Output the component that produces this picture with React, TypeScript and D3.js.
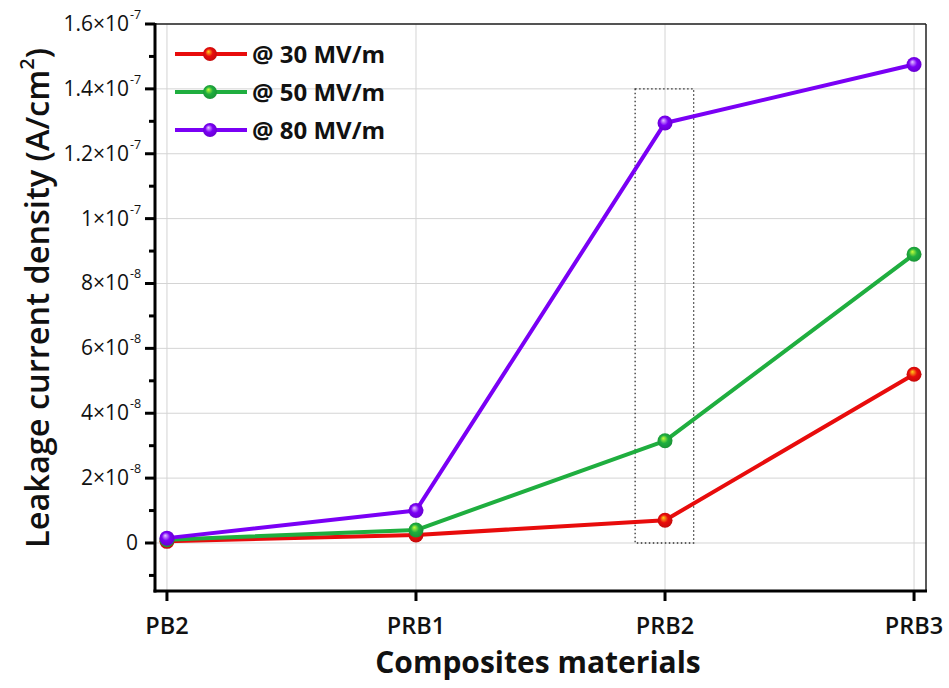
import React from "react";
import * as d3 from "d3";

// data
const categories = ["PB2", "PRB1", "PRB2", "PRB3"];
const series30 = [0.05e-8, 0.25e-8, 0.7e-8, 5.2e-8];
const series50 = [0.1e-8, 0.4e-8, 3.15e-8, 8.9e-8];
const series80 = [0.15e-8, 1.0e-8, 12.95e-8, 14.75e-8];
const seriesNames = ["@ 30 MV/m", "@ 50 MV/m", "@ 80 MV/m"];

const yMajorTicks = [0, 2e-8, 4e-8, 6e-8, 8e-8, 1e-7, 1.2e-7, 1.4e-7, 1.6e-7];
const yTickMantissa = ["0", "2", "4", "6", "8", "1", "1.2", "1.4", "1.6"];
const yTickExponent = ["", "-8", "-8", "-8", "-8", "-7", "-7", "-7", "-7"];
const yMinorTicks = [-1e-8, 1e-8, 3e-8, 5e-8, 7e-8, 9e-8, 1.1e-7, 1.3e-7, 1.5e-7];

// dashed box around PRB2
const boxCategory = "PRB2";
const boxTop = 1.4e-7;

const colors = ["#e80c0c", "#1fae3f", "#7a00f5"];
const highlights = ["#ffd21a", "#c8ff3a", "#e6c8ff"];

const W = 949;
const H = 688;
const left = 155;
const right = 926;
const top = 24;
const bottom = 591;
const font = "'Open Sans', 'Noto Sans', sans-serif";

const App = () => {
  const seriesList = [series30, series50, series80];

  const x = d3.scaleLinear().domain([-0.048, 3.048]).range([left, right]);
  const y = d3.scaleLinear().domain([-1.48e-8, 1.6e-7]).range([bottom, top]);

  const line = d3
    .line<number>()
    .x((_, i) => x(i))
    .y((d) => y(d));

  const bi = categories.indexOf(boxCategory);
  const legendY = [54, 92, 130];

  return (
    <svg width={W} height={H} style={{ position: "absolute", left: 0, top: 0 }}>
      <defs>
        {colors.map((c, i) => (
          <radialGradient key={i} id={"ball" + i} cx="0.5" cy="0.5" fx="0.38" fy="0.32" r="0.6">
            <stop offset="0" stopColor={highlights[i]} />
            <stop offset="0.45" stopColor={c} />
            <stop offset="1" stopColor={d3.color(c)!.darker(0.6).toString()} />
          </radialGradient>
        ))}
      </defs>
      <rect width={W} height={H} fill="#fff" />

      {/* grid */}
      <g stroke="#d4d4d4" strokeWidth={1}>
        {categories.map((c, i) => (
          <line key={c} x1={x(i)} x2={x(i)} y1={top} y2={bottom} />
        ))}
        {yMajorTicks.map((t) => (
          <line key={t} x1={left} x2={right} y1={y(t)} y2={y(t)} />
        ))}
      </g>

      {/* frame */}
      <line x1={left} x2={right} y1={top} y2={top} stroke="#222" strokeWidth={1.5} />
      <line x1={right} x2={right} y1={top} y2={bottom} stroke="#222" strokeWidth={1.5} />
      <line x1={left} x2={left} y1={top - 1} y2={bottom + 1.5} stroke="#000" strokeWidth={3} />
      <line x1={left - 1.5} x2={right + 1} y1={bottom} y2={bottom} stroke="#000" strokeWidth={3} />

      {/* y ticks */}
      {yMajorTicks.map((t, i) => (
        <g key={t}>
          <line x1={left - 10} x2={left} y1={y(t)} y2={y(t)} stroke="#000" strokeWidth={3} />
          <text
            x={yTickExponent[i] ? 129 : 138}
            y={y(t) + 7}
            textAnchor="end"
            fontFamily={font}
            fontSize={21}
            fill="#111"
          >
            {yTickExponent[i] ? yTickMantissa[i] + "\u00d710" : yTickMantissa[i]}
          </text>
          {yTickExponent[i] && (
            <text x={130} y={y(t) - 5} fontFamily={font} fontSize={12.5} fill="#111">
              {yTickExponent[i]}
            </text>
          )}
        </g>
      ))}
      {yMinorTicks.map((t) => (
        <line key={t} x1={left - 6} x2={left} y1={y(t)} y2={y(t)} stroke="#000" strokeWidth={3} />
      ))}

      {/* x ticks */}
      {categories.map((c, i) => (
        <g key={c}>
          <line x1={x(i)} x2={x(i)} y1={bottom} y2={bottom + 10} stroke="#000" strokeWidth={3} />
          <text
            x={x(i)}
            y={634}
            textAnchor="middle"
            fontFamily={font}
            fontSize={23.5}
            fontWeight={600}
            fill="#111"
          >
            {c}
          </text>
        </g>
      ))}

      {/* axis titles */}
      <text
        x={538}
        y={673}
        textAnchor="middle"
        fontFamily={font}
        fontSize={30}
        fontWeight={700}
        fill="#111"
      >
        Composites materials
      </text>
      <text
        transform="translate(49,298) rotate(-90)"
        textAnchor="middle"
        fontFamily={font}
        fontSize={32.5}
        fontWeight={600}
        fill="#111"
      >
        Leakage current density (A/cm
        <tspan fontSize={20} dy={-15}>2</tspan>
        <tspan dy={15}>)</tspan>
      </text>

      {/* dotted box */}
      <rect
        x={x(bi - 0.12)}
        y={y(boxTop)}
        width={x(bi + 0.115) - x(bi - 0.12)}
        height={y(0) - y(boxTop)}
        fill="none"
        stroke="#333"
        strokeWidth={1.3}
        strokeDasharray="1.5 2.5"
      />

      {/* series */}
      {seriesList.map((s, k) => (
        <g key={k}>
          <path d={line(s) ?? ""} fill="none" stroke={colors[k]} strokeWidth={4} strokeLinejoin="round" />
          {s.map((v, i) => (
            <circle key={i} cx={x(i)} cy={y(v)} r={7.5} fill={`url(#ball${k})`} />
          ))}
        </g>
      ))}

      {/* legend */}
      {seriesNames.map((name, k) => (
        <g key={name}>
          <line x1={175} x2={247} y1={legendY[k]} y2={legendY[k]} stroke={colors[k]} strokeWidth={4} />
          <circle cx={210} cy={legendY[k]} r={7} fill={`url(#ball${k})`} />
          <text
            x={252}
            y={legendY[k] + 8.5}
            fontFamily={font}
            fontSize={24}
            fontWeight={700}
            fill="#111"
          >
            {name}
          </text>
        </g>
      ))}
    </svg>
  );
};

export default App;
